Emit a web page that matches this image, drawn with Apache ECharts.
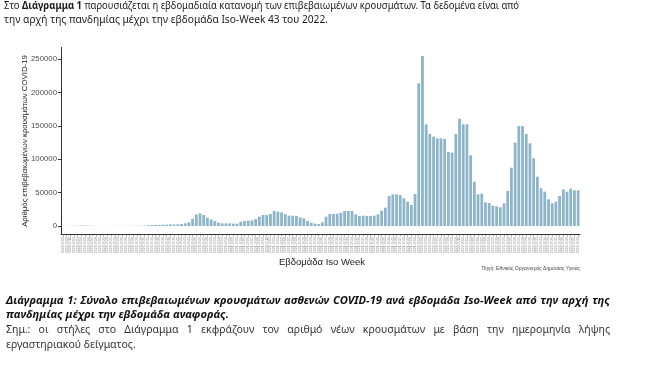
<!DOCTYPE html>
<html><head><meta charset="utf-8">
<script src="https://cdn.jsdelivr.net/npm/echarts@6/dist/echarts.min.js"></script>
<style>html,body{margin:0;padding:0;background:#fff;}#c{width:650px;height:373px;}</style>
</head><body><div id="c"></div>
<script>
// ISO weeks shown: 2020-W09 .. 2022-W43
const years = [2020, 2021, 2022];
const weekFrom = [9, 1, 1];
const weekTo = [53, 52, 43];

const cases2020 = [10, 90, 250, 450, 600, 650, 550, 450, 250, 150, 120, 100, 100, 150, 150, 120, 150, 180, 200, 250,
  200, 350, 650, 1100, 1500, 1600, 1700, 1900, 2100, 2400, 2300, 2500, 3000, 4000, 5500, 11000, 17500, 19000, 16500, 12500,
  10000, 7500, 5000, 4000, 4000];
const cases2021 = [4000, 3500, 3500, 6500, 7500, 8000, 8500, 10500, 14000, 16500, 16500, 18000, 22500, 21500, 20500,
  18000, 15500, 15500, 15000, 13000, 11500, 7500, 5000, 3500, 3000, 5500, 14000, 18000, 18000, 18500, 20000, 22500, 22500,
  22500, 17500, 15000, 15500, 15000, 15000, 15500, 17500, 23000, 27500, 45000, 47500, 47500, 46500, 41500, 36500, 31500,
  48000, 214000];
const cases2022 = [255000, 152500, 138000, 134000, 131500, 131500, 130500, 111000, 110000, 138000, 161000, 152500, 152500,
  106000, 66500, 47500, 48500, 35500, 34500, 30500, 29500, 28000, 34000, 52500, 87500, 125000, 150000, 150000, 138000,
  124000, 101500, 74000, 56500, 51500, 40000, 34000, 36500, 45000, 55000, 51500, 56000, 53500, 53500];

const yTicks = [0, 50000, 100000, 150000, 200000, 250000];

const topLine1a = 'Στο ';
const topLine1b = 'Διάγραμμα 1';
const topLine1c = ' παρουσιάζεται η εβδομαδιαία κατανομή των επιβεβαιωμένων κρουσμάτων. Τα δεδομένα είναι από';
const topLine2 = 'την αρχή της πανδημίας μέχρι την εβδομάδα Iso-Week 43 του 2022.';
const yTitle = 'Αριθμός επιβεβαιωμένων κρουσμάτων COVID-19';
const xTitle = 'Εβδομάδα Iso Week';
const sourceText = 'Πηγή: Εθνικός Οργανισμός Δημόσιας Υγείας';
const capLine1 = 'Διάγραμμα 1:  Σύνολο επιβεβαιωμένων κρουσμάτων ασθενών COVID-19 ανά εβδομάδα Iso-Week από την αρχή της';
const capLine2 = 'πανδημίας μέχρι την εβδομάδα αναφοράς.';
const noteLine1 = 'Σημ.:  οι στήλες στο Διάγραμμα 1 εκφράζουν τον αριθμό νέων κρουσμάτων με βάση την ημερομηνία λήψης';
const noteLine2 = 'εργαστηριακού δείγματος.';

const categories = [];
years.forEach((y, k) => { for (let w = weekFrom[k]; w <= weekTo[k]; w++) categories.push(y + '-W' + (w < 10 ? '0' : '') + w); });
const values = cases2020.concat(cases2021, cases2022);

const DOC_FONT = '"Noto Sans", "Open Sans", sans-serif';
const AX_FONT = '"Liberation Sans", Arial, sans-serif';
const cv = document.createElement('canvas').getContext('2d');
function measure(t, size, weight, style, fam) { cv.font = `${style} ${weight} ${size}px ${fam || DOC_FONT}`; return cv.measureText(t).width; }
function fitSize(t, target, weight, style, fam) { return 10 * target / measure(t, 10, weight, style, fam); }

function justify(words, y, x0, x1, size, weight, style, fill) {
  const widths = words.map(w => measure(w, size, weight, style));
  const total = widths.reduce((a, b) => a + b, 0);
  const gap = (x1 - x0 - total) / (words.length - 1);
  let x = x0; const out = [];
  words.forEach((w, i) => {
    out.push({ type: 'text', x: x, y: y, style: { text: w, fontSize: size, fontFamily: DOC_FONT, fontWeight: weight, fontStyle: style, fill: fill, align: 'left', verticalAlign: 'middle' } });
    x += widths[i] + gap;
  });
  return out;
}
function plain(text, x, y, size, weight, style, fill, fam, align) {
  return { type: 'text', x: x, y: y, style: { text: text, fontSize: size, fontFamily: fam || DOC_FONT, fontWeight: weight, fontStyle: style, fill: fill, align: align || 'left', verticalAlign: 'middle' } };
}

const TOP = 10.8;
const w1 = measure(topLine1a, TOP, 'normal', 'normal') + measure(topLine1b, TOP, 'bold', 'normal') + measure(topLine1c, TOP, 'normal', 'normal');
const sx1 = 515 / w1;
const sx2 = 324 / measure(topLine2, TOP, 'normal', 'normal');
const capSize = fitSize(capLine1.replace('  ', ' '), 594, 'bold', 'italic');
const yTitleSize = fitSize(yTitle, 172, 'normal', 'normal', AX_FONT);

const graphics = [].concat(
  [{ type: 'text', x: 4, y: 6, scaleX: sx1, style: { text: topLine1a + '{b|' + topLine1b + '}' + topLine1c, fontSize: TOP, fontFamily: DOC_FONT, fill: '#1a1a1a', align: 'left', verticalAlign: 'middle', rich: { b: { fontWeight: 'bold', fontSize: TOP, fontFamily: DOC_FONT, fill: '#1a1a1a' } } } }],
  [{ type: 'text', x: 4, y: 20, scaleX: sx2, style: { text: topLine2, fontSize: TOP, fontFamily: DOC_FONT, fill: '#1a1a1a', align: 'left', verticalAlign: 'middle' } }],
  justify(capLine1.split(' ').filter(s => s), 301, 6, 610, capSize, 'bold', 'italic', '#111'),
  [plain(capLine2, 6, 315, capSize, 'bold', 'italic', '#111')],
  justify(noteLine1.split(' ').filter(s => s), 330, 6, 610, 10.5, 'normal', 'normal', '#333'),
  [plain(noteLine2, 6, 345, 10.5, 'normal', 'normal', '#333')],
  [{ type: 'text', x: 25, y: 141, rotation: Math.PI / 2, style: { text: yTitle, fontSize: yTitleSize, fontFamily: AX_FONT, fill: '#222', align: 'center', verticalAlign: 'middle' } }],
  [plain(xTitle, 322, 262, 9.5, 'normal', 'normal', '#222', AX_FONT, 'center')],
  [plain(sourceText, 580, 269, 5, 'normal', 'normal', '#444', AX_FONT, 'right')]
);

const chart = echarts.init(document.getElementById('c'), null, { renderer: 'canvas' });
chart.setOption({
  animation: false,
  backgroundColor: '#fff',
  grid: { left: 61, top: 47.5, width: 519, height: 187, containLabel: false },
  xAxis: {
    type: 'category', data: categories,
    axisLine: { onZero: false, lineStyle: { color: '#333', width: 1 } },
    axisTick: { show: true, interval: 0, alignWithLabel: true, length: 2, lineStyle: { color: '#555', width: 0.5 } },
    axisLabel: { interval: 0, rotate: 90, fontSize: 3.5, color: '#888', margin: 2.5, fontFamily: AX_FONT }
  },
  yAxis: {
    type: 'value', min: -12750, max: 267750,
    splitLine: { show: false },
    axisLine: { show: true, lineStyle: { color: '#333', width: 1 } },
    axisTick: { show: true, length: 3, customValues: yTicks, lineStyle: { color: '#333' } },
    axisLabel: { customValues: yTicks, formatter: v => String(v), fontSize: 7.8, color: '#4d4d4d', margin: 4, fontFamily: AX_FONT }
  },
  series: [{
    type: 'bar', data: values, barCategoryGap: '25%',
    itemStyle: { color: '#8db4c8' }
  }],
  graphic: graphics
});
</script></body></html>
